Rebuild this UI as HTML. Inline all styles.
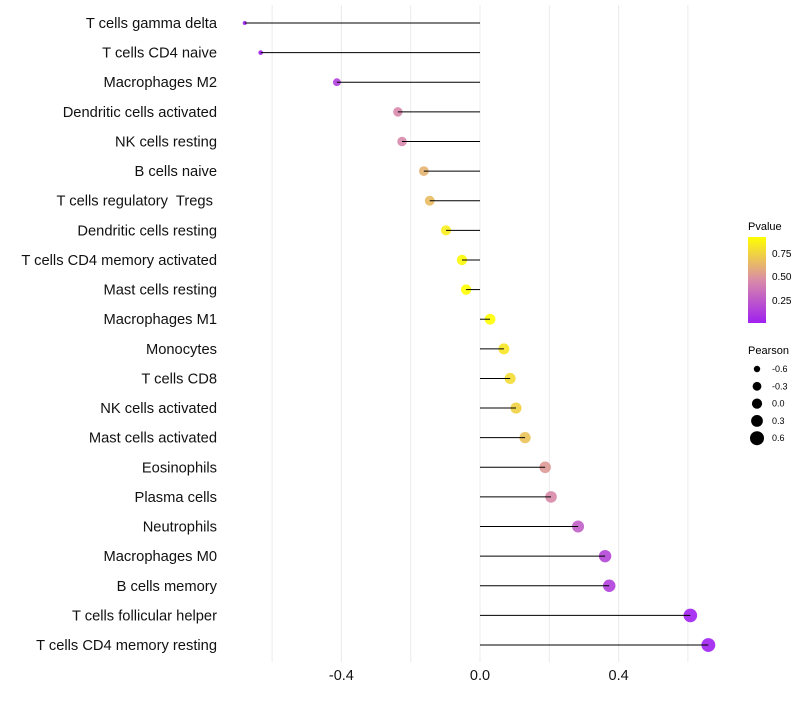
<!DOCTYPE html>
<html><head><meta charset="utf-8"><style>
body{margin:0;background:#fff;font-family:"Liberation Sans",sans-serif}
text{white-space:pre}
</style></head><body>
<svg id="chart" width="800" height="700" xmlns="http://www.w3.org/2000/svg">
<defs><linearGradient id="pg" x1="0" y1="1" x2="0" y2="0">
<stop offset="0" stop-color="#A020F0"/><stop offset="0.5" stop-color="#D98CA8"/><stop offset="1" stop-color="#FFFF00"/>
</linearGradient></defs>
<g id="grid"></g><g id="marks"></g><g id="labels"></g>
<g font-size="10">
<text x="748" y="230" font-size="11">Pvalue</text>
<rect x="748" y="237" width="18" height="86" fill="url(#pg)"/>
<text x="772" y="257">0.75</text><text x="772" y="280">0.50</text><text x="772" y="304">0.25</text>
</g>
<g id="sizeleg" font-size="9">
<text x="748" y="354" font-size="11">Pearson</text>
</g>
</svg>
<script>
const categories=["T cells gamma delta","T cells CD4 naive","Macrophages M2","Dendritic cells activated","NK cells resting","B cells naive","T cells regulatory  Tregs ","Dendritic cells resting","T cells CD4 memory activated","Mast cells resting","Macrophages M1","Monocytes","T cells CD8","NK cells activated","Mast cells activated","Eosinophils","Plasma cells","Neutrophils","Macrophages M0","B cells memory","T cells follicular helper","T cells CD4 memory resting"];
const pearson=[-0.679,-0.633,-0.413,-0.237,-0.225,-0.162,-0.145,-0.098,-0.052,-0.040,0.029,0.069,0.087,0.104,0.130,0.188,0.205,0.283,0.361,0.373,0.607,0.659];
const pvalue=[0.01,0.02,0.15,0.45,0.45,0.62,0.66,0.85,0.9,0.93,0.93,0.82,0.78,0.74,0.68,0.52,0.46,0.28,0.17,0.14,0.02,0.01];
const xTicks=[-0.4,0.0,0.4];
const xTickLabels=["-0.4","0.0","0.4"];
const sizeLegend=[-0.6,-0.3,0.0,0.3,0.6];
const legendRadii=[3.2,4.4,5.1,5.9,7];
const NS="http://www.w3.org/2000/svg";
const xs=v=>480+v*346.5;
const ys=i=>23+i*29.62;
const rs=v=>v>-0.35?5.3+2.5*v:Math.max(1.8,2+(v+0.68)/0.33*2.4);
function col(p){const t=Math.max(0,Math.min(1,(p-0.016)/(0.92-0.016)));
 const a=[160,32,240],m=[217,140,168],b=[255,255,0];let c;
 if(t<0.5){const u=t/0.5;c=a.map((x,k)=>x+(m[k]-x)*u)}else{const u=(t-0.5)/0.5;c=m.map((x,k)=>x+(b[k]-x)*u)}
 return `rgb(${c.map(Math.round).join(',')})`;}
function mk(t,at,parent){const e=document.createElementNS(NS,t);for(const k in at)e.setAttribute(k,at[k]);parent.appendChild(e);return e;}
const grid=document.getElementById('grid'),marks=document.getElementById('marks'),labels=document.getElementById('labels');
for(let v=-0.6;v<=0.61;v+=0.2){const g=mk('line',{x1:xs(v),x2:xs(v),y1:5,y2:662,stroke:'#ebebeb','stroke-width':1},grid);

}
xTicks.forEach((v,i)=>{const g=mk('line',{x1:xs(v),x2:xs(v),y1:5,y2:662,stroke:'#ebebeb','stroke-width':1},grid);


const t=mk('text',{x:xs(v),y:680,'text-anchor':'middle','font-size':14.5,fill:'#111'},labels);t.textContent=xTickLabels[i];

});
categories.forEach((c,i)=>{const y=ys(i),v=pearson[i];
const t=mk('text',{x:217,y:y+5,'text-anchor':'end','font-size':14.7,fill:'#111'},labels);t.textContent=c;


const p=mk('circle',{cx:xs(v),cy:y,r:rs(v),fill:col(pvalue[i]),'fill-opacity':0.9},marks);


const l=mk('line',{x1:xs(0),x2:xs(v),y1:y,y2:y,stroke:'#000','stroke-width':1},marks);

});
const sl=document.getElementById('sizeleg');
sizeLegend.forEach((v,i)=>{const y=369+i*17.3;
const c=mk('circle',{cx:757,cy:y,r:legendRadii[i],fill:'#000'},sl);


const t=mk('text',{x:772,y:y+3},sl);t.textContent=v.toFixed(1);

});
</script>
</body></html>
